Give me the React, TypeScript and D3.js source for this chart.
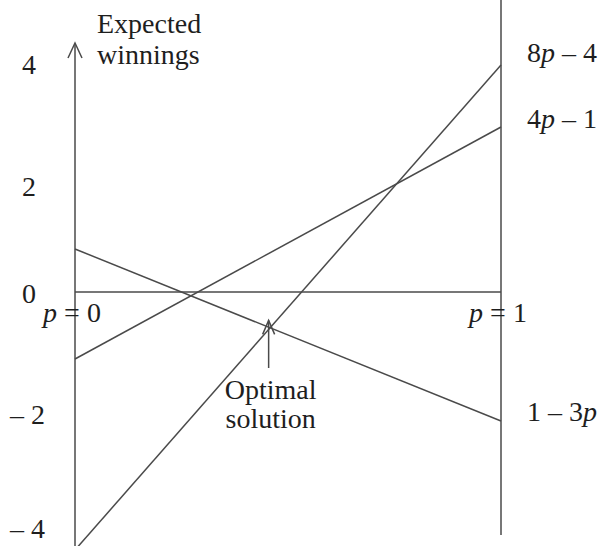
import React from "react";
import * as d3 from "d3";

const pDomain = [0, 1];
const lineNames = ["8p – 4", "4p – 1", "1 – 3p"];
const valuesAtP0 = [-4, -1, 1];
const valuesAtP1 = [4, 3, -2];
const yTicks = [4, 2, 0, -2, -4];
const yTickLabels = ["4", "2", "0", "– 2", "– 4"];
const pLabels = ["p = 0", "p = 1"];
const yTitle = ["Expected", "winnings"];
const noteLines = ["Optimal", "solution"];

const W = 600;
const H = 546;
const FONT = "'Liberation Serif', 'DejaVu Serif', serif";
const STROKE = "#4a4a4a";
const TEXT = "#1e1e1e";

const x = d3.scaleLinear().domain(pDomain).range([75, 501]);
// schematic (hand drawn) vertical scale
const y = d3
  .scaleLinear()
  .domain([-4, -2, -1, 0, 1, 3, 4])
  .range([550, 421, 359, 292, 249, 127, 65]);
// tick-label placement (the figure is not drawn to scale)
const yLabel = d3
  .scaleLinear()
  .domain([-4, -2, 0, 2, 4])
  .range([538, 424, 303, 196, 74]);

function withItalicP(s: string) {
  const parts = s.split("p");
  const out: React.ReactNode[] = [];
  parts.forEach((part, i) => {
    if (part) out.push(<tspan key={"t" + i}>{part}</tspan>);
    if (i < parts.length - 1)
      out.push(
        <tspan key={"p" + i} fontStyle="italic">
          p
        </tspan>
      );
  });
  return out;
}

const labelDy = [-3, 1, 0];

export default function App() {
  const line = d3
    .line<[number, number]>()
    .x((d) => x(d[0]))
    .y((d) => y(d[1]));

  // optimal point: intersection of 8p-4 and 1-3p
  const a = valuesAtP0[0], b = valuesAtP1[0] - valuesAtP0[0];
  const c = valuesAtP0[2], e = valuesAtP1[2] - valuesAtP0[2];
  const pOpt = (c - a) / (b - e);
  const optX = x(pOpt);
  const optY = y(a + b * pOpt) + 4;

  const textStyle: React.CSSProperties = { whiteSpace: "pre" };

  return (
    <svg
      width={W}
      height={H}
      style={{ position: "absolute", left: 0, top: 0, background: "#fff" }}
      fontFamily={FONT}
      fontSize={28}
    >
      {/* axes */}
      <line x1={x(0)} x2={x(0)} y1={H} y2={44} stroke={STROKE} strokeWidth={1.5} />
      <polyline
        points={`${x(0) - 7},${58} ${x(0)},${43} ${x(0) + 7},${58}`}
        fill="none"
        stroke={STROKE}
        strokeWidth={1.5}
      />
      <line x1={x(1)} x2={x(1)} y1={0} y2={535} stroke={STROKE} strokeWidth={1.5} />
      <line x1={x(0)} x2={x(1)} y1={y(0)} y2={y(0)} stroke={STROKE} strokeWidth={1.5} />

      {/* strategy lines */}
      {lineNames.map((n, i) => (
        <path
          key={n}
          d={line([
            [pDomain[0], valuesAtP0[i]],
            [pDomain[1], valuesAtP1[i]],
          ]) as string}
          fill="none"
          stroke={STROKE}
          strokeWidth={1.5}
        />
      ))}

      {/* line labels */}
      {lineNames.map((n, i) => (
        <text
          key={"l" + n}
          x={x(1) + 26}
          y={y(valuesAtP1[i]) + labelDy[i]}
          fill={TEXT}
          style={textStyle}
        >
          {withItalicP(n)}
        </text>
      ))}

      {/* y tick labels */}
      {yTicks.map((t, i) => (
        <text
          key={"y" + t}
          x={t < 0 ? 10 : 22}
          y={yLabel(t)}
          fill={TEXT}
          style={textStyle}
        >
          {yTickLabels[i]}
        </text>
      ))}

      {/* y title */}
      {yTitle.map((s, i) => (
        <text key={s} x={97} y={33 + i * 31} fill={TEXT}>
          {s}
        </text>
      ))}

      {/* p labels */}
      {pDomain.map((p, i) => (
        <text
          key={"p" + p}
          x={x(p) - 3}
          y={322}
          textAnchor="middle"
          fill={TEXT}
          style={textStyle}
        >
          {withItalicP(pLabels[i])}
        </text>
      ))}

      {/* optimal solution annotation */}
      <line x1={optX} x2={optX} y1={optY} y2={368} stroke={STROKE} strokeWidth={1.5} />
      <polyline
        points={`${optX - 6},${optY + 14} ${optX},${optY} ${optX + 6},${optY + 14}`}
        fill="none"
        stroke={STROKE}
        strokeWidth={1.5}
      />
      {noteLines.map((s, i) => (
        <text key={s} x={optX + 2} y={399 + i * 29} textAnchor="middle" fill={TEXT}>
          {s}
        </text>
      ))}
    </svg>
  );
}
